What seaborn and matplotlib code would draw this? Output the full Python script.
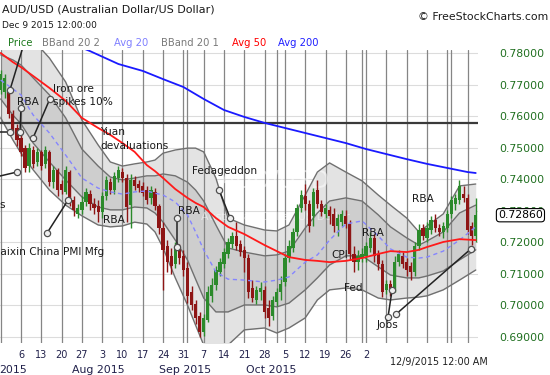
import numpy as np
import matplotlib
matplotlib.use("Agg")
import matplotlib.pyplot as plt
import seaborn as sns

# daily bars, day 0 = Mon 29 Jun 2015 ... day 117 = Wed 9 Dec 2015
opens = [0.7684, 0.7677, 0.7677, 0.7607, 0.7563, 0.7531, 0.7499, 0.7442, 0.7493, 0.7455,
         0.7487, 0.7449, 0.7487, 0.7391, 0.7430, 0.7385, 0.7360, 0.7423, 0.7334, 0.7290,
         0.7303, 0.7328, 0.7353, 0.7322, 0.7315, 0.7296, 0.7347, 0.7391, 0.7366, 0.7404,
         0.7423, 0.7404, 0.7318, 0.7398, 0.7385, 0.7379, 0.7366, 0.7341, 0.7360, 0.7315,
         0.7245, 0.7188, 0.7157, 0.7131, 0.7182, 0.7157, 0.7118, 0.7042, 0.7004, 0.6966,
         0.6915, 0.6953, 0.7030, 0.7065, 0.7106, 0.7131, 0.7163, 0.7195, 0.7220, 0.7195,
         0.7176, 0.7150, 0.7055, 0.7017, 0.7042, 0.7049, 0.6991, 0.6966, 0.7010, 0.7042,
         0.7074, 0.7150, 0.7182, 0.7233, 0.7309, 0.7347, 0.7322, 0.7284, 0.7366, 0.7322,
         0.7290, 0.7303, 0.7290, 0.7252, 0.7264, 0.7284, 0.7258, 0.7163, 0.7137, 0.7150,
         0.7157, 0.7182, 0.7214, 0.7163, 0.7131, 0.7049, 0.7068, 0.7055, 0.7137, 0.7157,
         0.7137, 0.7125, 0.7106, 0.7188, 0.7245, 0.7214, 0.7239, 0.7271, 0.7245, 0.7233,
         0.7245, 0.7290, 0.7322, 0.7334, 0.7353, 0.7341, 0.7252, 0.7220]
closes = [0.7734, 0.7722, 0.7607, 0.7553, 0.7525, 0.7487, 0.7436, 0.7499, 0.7449, 0.7487,
          0.7442, 0.7493, 0.7391, 0.7430, 0.7366, 0.7366, 0.7430, 0.7334, 0.7303, 0.7309,
          0.7328, 0.7360, 0.7322, 0.7309, 0.7296, 0.7347, 0.7398, 0.7366, 0.7411, 0.7430,
          0.7404, 0.7312, 0.7398, 0.7379, 0.7372, 0.7356, 0.7334, 0.7366, 0.7315, 0.7245,
          0.7176, 0.7137, 0.7125, 0.7188, 0.7150, 0.7112, 0.7030, 0.7001, 0.6960, 0.6915,
          0.6960, 0.7042, 0.7065, 0.7112, 0.7137, 0.7169, 0.7201, 0.7220, 0.7188, 0.7169,
          0.7150, 0.7042, 0.7023, 0.7049, 0.7055, 0.6979, 0.6960, 0.7017, 0.7042, 0.7068,
          0.7150, 0.7188, 0.7233, 0.7309, 0.7350, 0.7322, 0.7252, 0.7360, 0.7322, 0.7296,
          0.7309, 0.7284, 0.7252, 0.7277, 0.7290, 0.7258, 0.7163, 0.7137, 0.7157, 0.7163,
          0.7188, 0.7214, 0.7157, 0.7131, 0.7042, 0.7068, 0.7049, 0.7137, 0.7163, 0.7131,
          0.7112, 0.7106, 0.7188, 0.7239, 0.7220, 0.7245, 0.7271, 0.7245, 0.7233, 0.7252,
          0.7290, 0.7334, 0.7341, 0.7379, 0.7341, 0.7239, 0.7220, 0.7286]
highs = [0.7747, 0.7734, 0.7690, 0.7620, 0.7576, 0.7550, 0.7509, 0.7515, 0.7506, 0.7499,
         0.7493, 0.7506, 0.7493, 0.7442, 0.7436, 0.7398, 0.7442, 0.7430, 0.7347, 0.7322,
         0.7347, 0.7372, 0.7366, 0.7341, 0.7334, 0.7360, 0.7411, 0.7404, 0.7423, 0.7442,
         0.7436, 0.7417, 0.7417, 0.7411, 0.7398, 0.7391, 0.7379, 0.7379, 0.7372, 0.7322,
         0.7264, 0.7207, 0.7182, 0.7201, 0.7195, 0.7176, 0.7137, 0.7061, 0.7017, 0.6979,
         0.6972, 0.7061, 0.7087, 0.7125, 0.7150, 0.7182, 0.7214, 0.7233, 0.7264, 0.7207,
         0.7188, 0.7163, 0.7080, 0.7061, 0.7074, 0.7061, 0.7017, 0.7030, 0.7055, 0.7093,
         0.7163, 0.7207, 0.7245, 0.7322, 0.7366, 0.7385, 0.7334, 0.7372, 0.7398, 0.7334,
         0.7322, 0.7315, 0.7309, 0.7290, 0.7303, 0.7303, 0.7271, 0.7188, 0.7176, 0.7182,
         0.7201, 0.7233, 0.7226, 0.7176, 0.7144, 0.7080, 0.7080, 0.7157, 0.7176, 0.7169,
         0.7150, 0.7137, 0.7201, 0.7258, 0.7258, 0.7264, 0.7284, 0.7290, 0.7258, 0.7264,
         0.7303, 0.7347, 0.7353, 0.7398, 0.7379, 0.7353, 0.7264, 0.7341]
lows = [0.7671, 0.7658, 0.7595, 0.7544, 0.7506, 0.7474, 0.7423, 0.7423, 0.7436, 0.7442,
        0.7430, 0.7436, 0.7379, 0.7372, 0.7347, 0.7353, 0.7353, 0.7315, 0.7284, 0.7277,
        0.7290, 0.7315, 0.7303, 0.7290, 0.7264, 0.7277, 0.7334, 0.7353, 0.7353, 0.7391,
        0.7391, 0.7264, 0.7245, 0.7366, 0.7360, 0.7347, 0.7322, 0.7322, 0.7303, 0.7226,
        0.7049, 0.7106, 0.7099, 0.7118, 0.7131, 0.7093, 0.7007, 0.6985, 0.6941, 0.6899,
        0.6903, 0.6947, 0.7010, 0.7049, 0.7093, 0.7118, 0.7150, 0.7182, 0.7176, 0.7157,
        0.7106, 0.7023, 0.7010, 0.7004, 0.7017, 0.6960, 0.6934, 0.6953, 0.6998, 0.7017,
        0.7061, 0.7137, 0.7169, 0.7220, 0.7296, 0.7303, 0.7233, 0.7252, 0.7309, 0.7284,
        0.7277, 0.7258, 0.7233, 0.7220, 0.7252, 0.7245, 0.7144, 0.7106, 0.7112, 0.7137,
        0.7137, 0.7169, 0.7137, 0.7112, 0.7026, 0.7036, 0.7030, 0.7042, 0.7125, 0.7118,
        0.7093, 0.7080, 0.7093, 0.7176, 0.7207, 0.7201, 0.7226, 0.7233, 0.7220, 0.7214,
        0.7233, 0.7277, 0.7303, 0.7322, 0.7328, 0.7226, 0.7191, 0.7201]

# indicator lines at these days
band_days = [0, 3, 5, 8, 12, 16, 20, 24, 27, 30, 33, 36, 38, 40, 43, 46, 48, 50, 53,
             56, 60, 65, 68, 71, 75, 78, 81, 85, 89, 93, 96, 100, 103, 105, 109, 113, 117]
avg20 = [0.7715, 0.7687, 0.7668, 0.7604, 0.7547, 0.7477, 0.7404, 0.7372, 0.7360, 0.7353,
         0.7360, 0.7363, 0.7356, 0.7350, 0.7328, 0.7287, 0.7233, 0.7176, 0.7106, 0.7083,
         0.7080, 0.7074, 0.7080, 0.7090, 0.7137, 0.7160, 0.7207, 0.7258, 0.7268, 0.7220,
         0.7179, 0.7153, 0.7150, 0.7153, 0.7172, 0.7207, 0.7249]
avg50 = [0.7801, 0.7772, 0.7756, 0.7728, 0.7690, 0.7649, 0.7595, 0.7563, 0.7541, 0.7515,
         0.7487, 0.7445, 0.7426, 0.7404, 0.7369, 0.7341, 0.7325, 0.7312, 0.7277, 0.7249,
         0.7226, 0.7191, 0.7172, 0.7153, 0.7144, 0.7141, 0.7137, 0.7141, 0.7150, 0.7163,
         0.7172, 0.7169, 0.7176, 0.7185, 0.7201, 0.7210, 0.7207]
bb2_upper = [0.7874, 0.7868, 0.7858, 0.7842, 0.7785, 0.7709, 0.7588, 0.7509, 0.7455, 0.7442,
             0.7449, 0.7455, 0.7461, 0.7483, 0.7493, 0.7499, 0.7499, 0.7487, 0.7404, 0.7277,
             0.7255, 0.7239, 0.7236, 0.7255, 0.7350, 0.7423, 0.7452, 0.7423, 0.7395, 0.7350,
             0.7318, 0.7277, 0.7233, 0.7252, 0.7290, 0.7379, 0.7385]
bb2_lower = [0.7595, 0.7525, 0.7483, 0.7430, 0.7366, 0.7318, 0.7284, 0.7255, 0.7249, 0.7252,
             0.7264, 0.7258, 0.7233, 0.7182, 0.7087, 0.7001, 0.6937, 0.6874, 0.6852, 0.6874,
             0.6922, 0.6928, 0.6912, 0.6928, 0.6960, 0.7017, 0.7049, 0.7055, 0.7049, 0.7023,
             0.7017, 0.7023, 0.7026, 0.7030, 0.7049, 0.7080, 0.7112]
bb1_upper = [0.7795, 0.7779, 0.7763, 0.7722, 0.7668, 0.7595, 0.7496, 0.7442, 0.7407, 0.7398,
             0.7404, 0.7411, 0.7411, 0.7417, 0.7411, 0.7391, 0.7366, 0.7331, 0.7255, 0.7182,
             0.7169, 0.7157, 0.7160, 0.7172, 0.7245, 0.7293, 0.7331, 0.7341, 0.7331, 0.7287,
             0.7249, 0.7214, 0.7191, 0.7204, 0.7233, 0.7293, 0.7318]
bb1_lower = [0.7655, 0.7604, 0.7576, 0.7515, 0.7455, 0.7398, 0.7344, 0.7312, 0.7303, 0.7303,
             0.7312, 0.7309, 0.7293, 0.7264, 0.7207, 0.7144, 0.7083, 0.7023, 0.6979, 0.6979,
             0.7001, 0.7001, 0.6995, 0.7007, 0.7049, 0.7087, 0.7128, 0.7157, 0.7157, 0.7122,
             0.7096, 0.7087, 0.7087, 0.7093, 0.7109, 0.7144, 0.7176]
avg200_days = [17, 22, 29, 35, 40, 45, 50, 55, 60, 65, 70, 75, 80, 85, 90, 95, 100, 105,
               110, 115, 117]
avg200 = [0.7833, 0.7807, 0.7766, 0.7744, 0.7718, 0.7693, 0.7655, 0.7620, 0.7598, 0.7579,
          0.7563, 0.7547, 0.7531, 0.7515, 0.7496, 0.7480, 0.7464, 0.7449, 0.7436, 0.7423,
          0.7420]

resistance = 0.758
last_price = 0.7286
yticks = [0.69, 0.70, 0.71, 0.72, 0.73, 0.74, 0.75, 0.76, 0.77, 0.78]

week_days = list(range(0, 118, 5))
month_days = [25, 46, 68, 89, 111]
day_tick_days = list(range(5, 91, 5))
day_labels = ["6", "13", "20", "27", "3", "10", "17", "24", "31", "7", "14", "21", "28",
              "5", "12", "19", "26", "2"]
month_label_days = [3, 24, 45.5, 66.5]
month_labels = ["2015", "Aug 2015", "Sep 2015", "Oct 2015"]

# event notes: (text, day, price)
notes = [("RBA", 4.0, 0.7645), ("Iron ore\nspikes 10%", 12.9, 0.7665),
         ("Yuan\ndevaluations", 24.5, 0.7528), ("RBA", 25.2, 0.7271),
         ("Caixin China PMI Mfg", -1.9, 0.7169), ("s", -0.3, 0.7320),
         ("RBA", 43.7, 0.7299), ("Fedageddon", 47.1, 0.7426), ("CPI", 81.4, 0.7160),
         ("Fed", 84.6, 0.7055), ("RBA", 89.0, 0.7229), ("RBA", 101.3, 0.7337),
         ("Jobs", 92.7, 0.6937)]
# pointer lines: (day0, price0, day1, price1, circle at start, circle at end)
pointers = [(5.0, 0.7626, 4.75, 0.7550, True, True),
            (2.29, 0.7684, 6.0, 0.7842, True, False),
            (-1.0, 0.7550, 2.29, 0.7550, False, True),
            (-1.0, 0.7408, 4.0, 0.7423, False, True),
            (12.1, 0.7655, 7.96, 0.7531, True, True),
            (11.4, 0.7229, 16.6, 0.7334, True, True),
            (43.4, 0.7277, 43.4, 0.7185, True, True),
            (53.8, 0.7366, 56.5, 0.7277, True, True),
            (95.4, 0.6963, 96.4, 0.7049, True, True),
            (97.4, 0.6972, 115.8, 0.7179, True, True)]

sns.set_style("white")
plt.rcParams["font.family"] = ["DejaVu Sans"]

fig = plt.figure(figsize=(5.5, 3.75), dpi=100)
ax = fig.add_axes([0, 32 / 375, 478 / 550, 293 / 375])
ax.set_xlim(-0.17, 117.56)
ax.set_ylim(0.68803, 0.78105)
for s in ax.spines.values():
    s.set_visible(False)

for v in yticks:
    ax.axhline(v, color="#dcdcdc", lw=0.8, zorder=0.5)

# bollinger bands
ax.fill_between(band_days, bb2_lower, bb2_upper, color="#e3e3e3", lw=0, zorder=1)
ax.fill_between(band_days, bb1_lower, bb1_upper, color="#cecece", lw=0, zorder=1.1)

for d in sorted(set(week_days + month_days)):
    ax.axvline(d, color="#858585", lw=0.9, zorder=1.5)

ax.text(67.6, 0.7395, "AUD/USD", fontsize=17, color="white", alpha=0.5,
        ha="center", va="center", zorder=1.6)
ax.text(67.6, 0.7280, "Australian Dollar/US Dollar", fontsize=8, color="white",
        alpha=0.5, ha="center", va="center", zorder=1.6)

for band in (bb2_upper, bb2_lower, bb1_upper, bb1_lower):
    sns.lineplot(x=band_days, y=band, ax=ax, color="#707070", lw=1, zorder=2)

ax.axhline(resistance, color="#3a3a3a", lw=1.6, zorder=2.2)

# candles
o = np.array(opens)
c = np.array(closes)
days = np.arange(len(c))
cols = np.where(c >= o, "#2b8a2b", "#8e1515")
ax.vlines(days, lows, highs, colors=cols, lw=1, zorder=3)
body = np.maximum(np.abs(c - o), 0.0002)
ax.bar(days, body, bottom=np.minimum(o, c), width=0.8, color=cols, lw=0, zorder=3.1)

sns.lineplot(x=band_days, y=avg20, ax=ax, color="#8585ff", lw=1, linestyle=(0, (3, 2.5)), zorder=4)
sns.lineplot(x=band_days, y=avg50, ax=ax, color="#ff1a1a", lw=1.3, zorder=4)
sns.lineplot(x=avg200_days, y=avg200, ax=ax, color="#1a1aff", lw=1.3, zorder=4)

for txt, d, p in notes:
    ax.text(d, p, txt, fontsize=7.6, color="#1a1a1a", ha="left", va="center",
            linespacing=1.4, zorder=6, clip_on=False)
for d0, p0, d1, p1, m0, m1 in pointers:
    ax.plot([d0, d1], [p0, p1], color="#222222", lw=1.1, zorder=5)
    for d, p, m in ((d0, p0, m0), (d1, p1, m1)):
        if m:
            ax.plot(d, p, "o", ms=4.5, mfc="#eeeeee", mec="#505050", mew=0.9, zorder=5.5)

# axes labels
ax.yaxis.tick_right()
ax.set_yticks(yticks)
ax.set_yticklabels([f"{v:.5f}" for v in yticks])
ax.tick_params(axis="y", length=0, pad=15, labelsize=7.8, labelcolor="#1f6f1f")
ax.set_xticks(day_tick_days)
ax.set_xticklabels(day_labels)
ax.tick_params(axis="x", length=0, pad=5, labelsize=7, labelcolor="#20204a")
ax.set_xlabel("")
ax.set_ylabel("")
for d, lab in zip(month_label_days, month_labels):
    ax.text(d, -0.092, lab, transform=ax.get_xaxis_transform(), fontsize=7.9,
            color="#20204a", ha="center", va="center", clip_on=False)

ax.text(1.0 + 20 / 478, last_price, f"{last_price:.5f}", transform=ax.get_yaxis_transform(),
        fontsize=7.8, color="black", ha="left", va="center", zorder=10, clip_on=False,
        bbox=dict(boxstyle="round,pad=0.15,rounding_size=0.3", fc="white", ec="black", lw=0.8))

# header
fig.text(2 / 550, 1 - 10 / 375, "AUD/USD (Australian Dollar/US Dollar)", fontsize=8,
         color="#1a1a1a", ha="left", va="center")
fig.text(2 / 550, 1 - 25 / 375, "Dec 9 2015 12:00:00", fontsize=6.5, color="#1a1a1a",
         ha="left", va="center")
legend_items = [("Price", 8, "#1e7b1e"), ("BBand 20 2", 42, "#7a7a7a"),
                ("Avg 20", 114, "#8080ff"), ("BBand 20 1", 161, "#7a7a7a"),
                ("Avg 50", 232, "#ff0000"), ("Avg 200", 278, "#2020ff")]
for txt, x, col in legend_items:
    fig.text(x / 550, 1 - 43 / 375, txt, fontsize=7.2, color=col, ha="left", va="center")
fig.text(548 / 550, 1 - 17 / 375, "\u00a9 FreeStockCharts.com", fontsize=7.8,
         color="#1a1a1a", ha="right", va="center")
fig.text(439 / 550, 1 - 362 / 375, "12/9/2015 12:00 AM", fontsize=6.9, color="#202020",
         ha="center", va="center")

fig.savefig("out.png", dpi=100)
